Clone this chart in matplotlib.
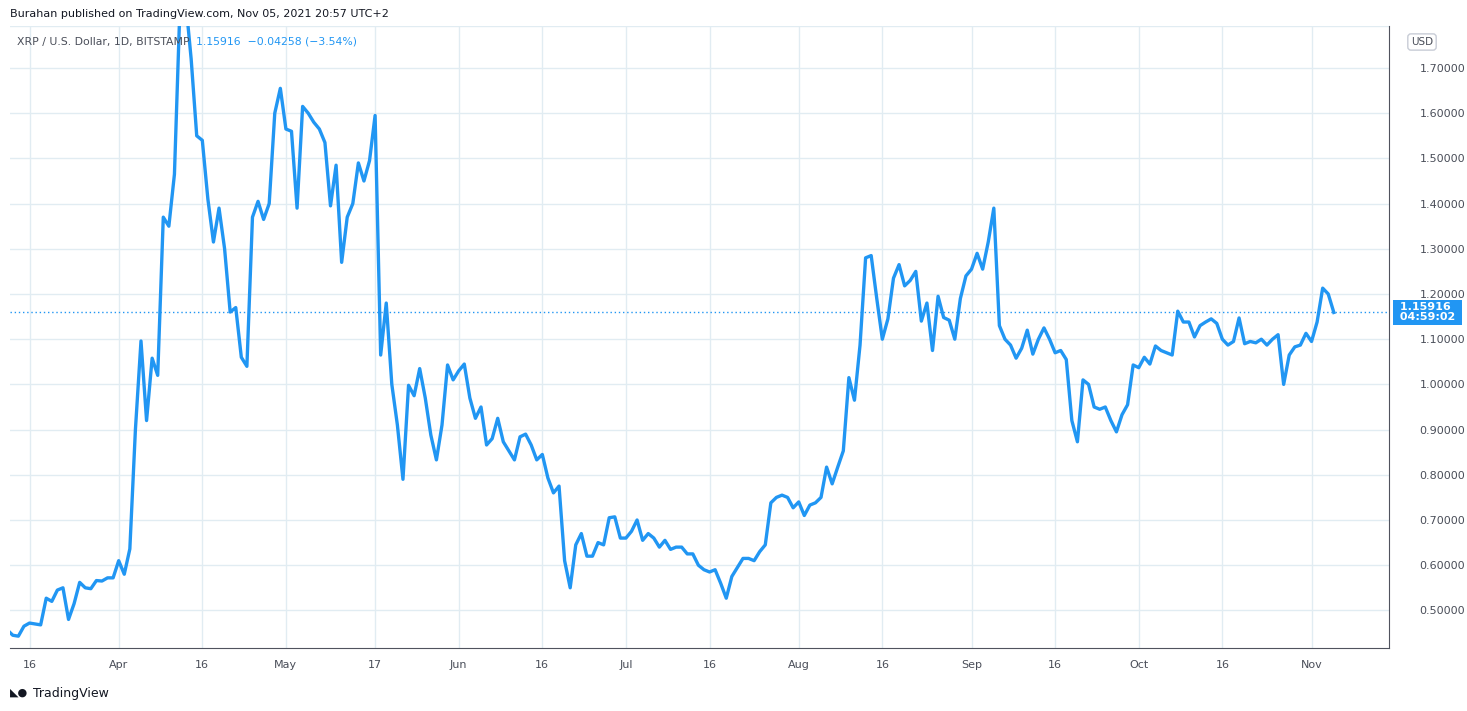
import numpy as np
import pandas as pd
import matplotlib.pyplot as plt
import matplotlib.dates as mdates

# XRP/USD daily close (Mar 2021 - Nov 05 2021)
closes = [0.462,0.457,0.445,0.443,0.465,0.472,0.470,0.468,0.527,0.520,0.545,0.550,0.480,0.515,0.562,0.550,0.548,
          0.566,0.565,0.572,0.572,0.610,0.580,0.636,0.900,1.096,0.920,1.058,1.020,1.370,1.350,1.465,1.840,
          1.850,1.720,1.550,1.540,1.410,1.315,1.390,1.300,1.160,1.170,1.060,1.040,1.370,1.405,1.365,1.400,
          1.600,1.655,1.565,1.560,1.390,1.615,1.600,1.580,1.565,1.535,1.395,1.485,1.270,1.370,1.400,1.490,
          1.450,1.495,1.595,1.065,1.180,1.000,0.910,0.790,0.998,0.975,1.035,0.970,0.888,0.833,0.910,1.043,
          1.010,1.030,1.045,0.970,0.925,0.950,0.866,0.880,0.925,0.873,0.853,0.833,0.884,0.890,0.866,0.833,
          0.845,0.793,0.760,0.775,0.610,0.550,0.645,0.670,0.620,0.620,0.650,0.645,0.705,0.707,0.660,0.660,
          0.675,0.700,0.655,0.670,0.660,0.640,0.655,0.635,0.640,0.640,0.625,0.625,0.600,0.590,0.585,0.590,
          0.560,0.527,0.575,0.595,0.615,0.615,0.610,0.630,0.645,0.738,0.750,0.755,0.750,0.727,0.740,0.710,
          0.733,0.738,0.750,0.817,0.780,0.817,0.853,1.015,0.965,1.087,1.280,1.285,1.190,1.100,1.145,1.235,
          1.265,1.218,1.230,1.250,1.140,1.180,1.075,1.195,1.148,1.142,1.100,1.190,1.240,1.255,1.290,1.255,
          1.315,1.390,1.130,1.100,1.087,1.058,1.080,1.120,1.067,1.100,1.125,1.100,1.070,1.075,1.055,0.920,
          0.873,1.010,1.000,0.950,0.945,0.950,0.920,0.895,0.933,0.955,1.043,1.037,1.060,1.045,1.085,1.075,
          1.070,1.065,1.162,1.138,1.138,1.105,1.130,1.138,1.145,1.135,1.100,1.087,1.095,1.147,1.090,1.095,
          1.092,1.100,1.087,1.100,1.110,1.000,1.065,1.083,1.087,1.113,1.095,1.138,1.213,1.200,1.15916]
last_close = 1.15916
y_ticks = [0.5, 0.6, 0.7, 0.8, 0.9, 1.0, 1.1, 1.2, 1.3, 1.4, 1.5, 1.6, 1.7]
x_ticks = ["2021-03-16", "2021-04-01", "2021-04-16", "2021-05-01", "2021-05-17", "2021-06-01",
           "2021-06-16", "2021-07-01", "2021-07-16", "2021-08-01", "2021-08-16", "2021-09-01",
           "2021-09-16", "2021-10-01", "2021-10-16", "2021-11-01"]
x_labels = ["16", "Apr", "16", "May", "17", "Jun", "16", "Jul", "16", "Aug", "16", "Sep",
            "16", "Oct", "16", "Nov"]

dates = pd.date_range(end="2021-11-05", periods=len(closes), freq="D")

W, H = 1467, 711
fig = plt.figure(figsize=(W / 100, H / 100), dpi=100)
ax = fig.add_axes([10 / W, (H - 648) / H, 1379 / W, (648 - 26) / H])

blue = "#2196f3"
grid = "#e1ecf2"
text = "#4a4e59"

ax.plot(dates, closes, color=blue, lw=2.4, solid_joinstyle="round", zorder=3)
ax.axhline(last_close, color=blue, lw=1, ls=(0, (1, 2)), zorder=2)

px_day = 5.574
x0 = mdates.date2num(dates[1]) + 0.5
ax.set_xlim(x0, x0 + 1379 / px_day)
ax.set_ylim(1.70 - (648 - 68) / 452.0, 1.70 + (68 - 26) / 452.0)

ax.set_xticks(pd.to_datetime(x_ticks))
ax.set_xticklabels(x_labels)
ax.set_yticks(y_ticks)
ax.yaxis.tick_right()
ax.set_yticklabels(["%.5f" % v for v in y_ticks])
ax.tick_params(axis="both", length=0, labelsize=8, colors=text, pad=9)
ax.tick_params(axis="y", pad=22)
ax.grid(True, color=grid, lw=1)
for s in ["top", "left"]:
    ax.spines[s].set_visible(False)
ax.spines["right"].set_color("#50535e")
ax.spines["bottom"].set_color("#50535e")
ax.axhline(ax.get_ylim()[1], color=grid, lw=1)

# price label on the right scale
ylo, yhi = ax.get_ylim()
ax.text(1.0048, (last_close - ylo) / (yhi - ylo),
        " %.5f \n %s " % (last_close, "04:59:02"), transform=ax.transAxes, ha="left", va="center",
        fontsize=8, color="white", fontweight="bold", linespacing=1.0, zorder=5,
        bbox=dict(boxstyle="square,pad=0.25", fc=blue, ec="none"))

fig.text(10 / W, 1 - 14 / H, "Burahan published on TradingView.com, Nov 05, 2021 20:57 UTC+2",
         fontsize=8, color="#131722", va="center")
fig.text(17 / W, 1 - 42 / H, "XRP / U.S. Dollar, 1D, BITSTAMP", fontsize=7.8, color=text, va="center")
fig.text(196 / W, 1 - 42 / H, "1.15916  \u22120.04258 (\u22123.54%)", fontsize=7.8, color=blue, va="center")
fig.text(1422 / W, 1 - 42 / H, "USD", fontsize=7.5, color=text, va="center", ha="center",
         bbox=dict(boxstyle="round,pad=0.3", fc="white", ec="#c8ccd6"))
fig.text(10 / W, 1 - 693 / H, "\u25e3\u25cf", fontsize=8, color="#131722", va="center", fontweight="bold")
fig.text(33 / W, 1 - 693 / H, "TradingView", fontsize=9, color="#131722", va="center")

fig.savefig("out.png", dpi=100, facecolor="white")
